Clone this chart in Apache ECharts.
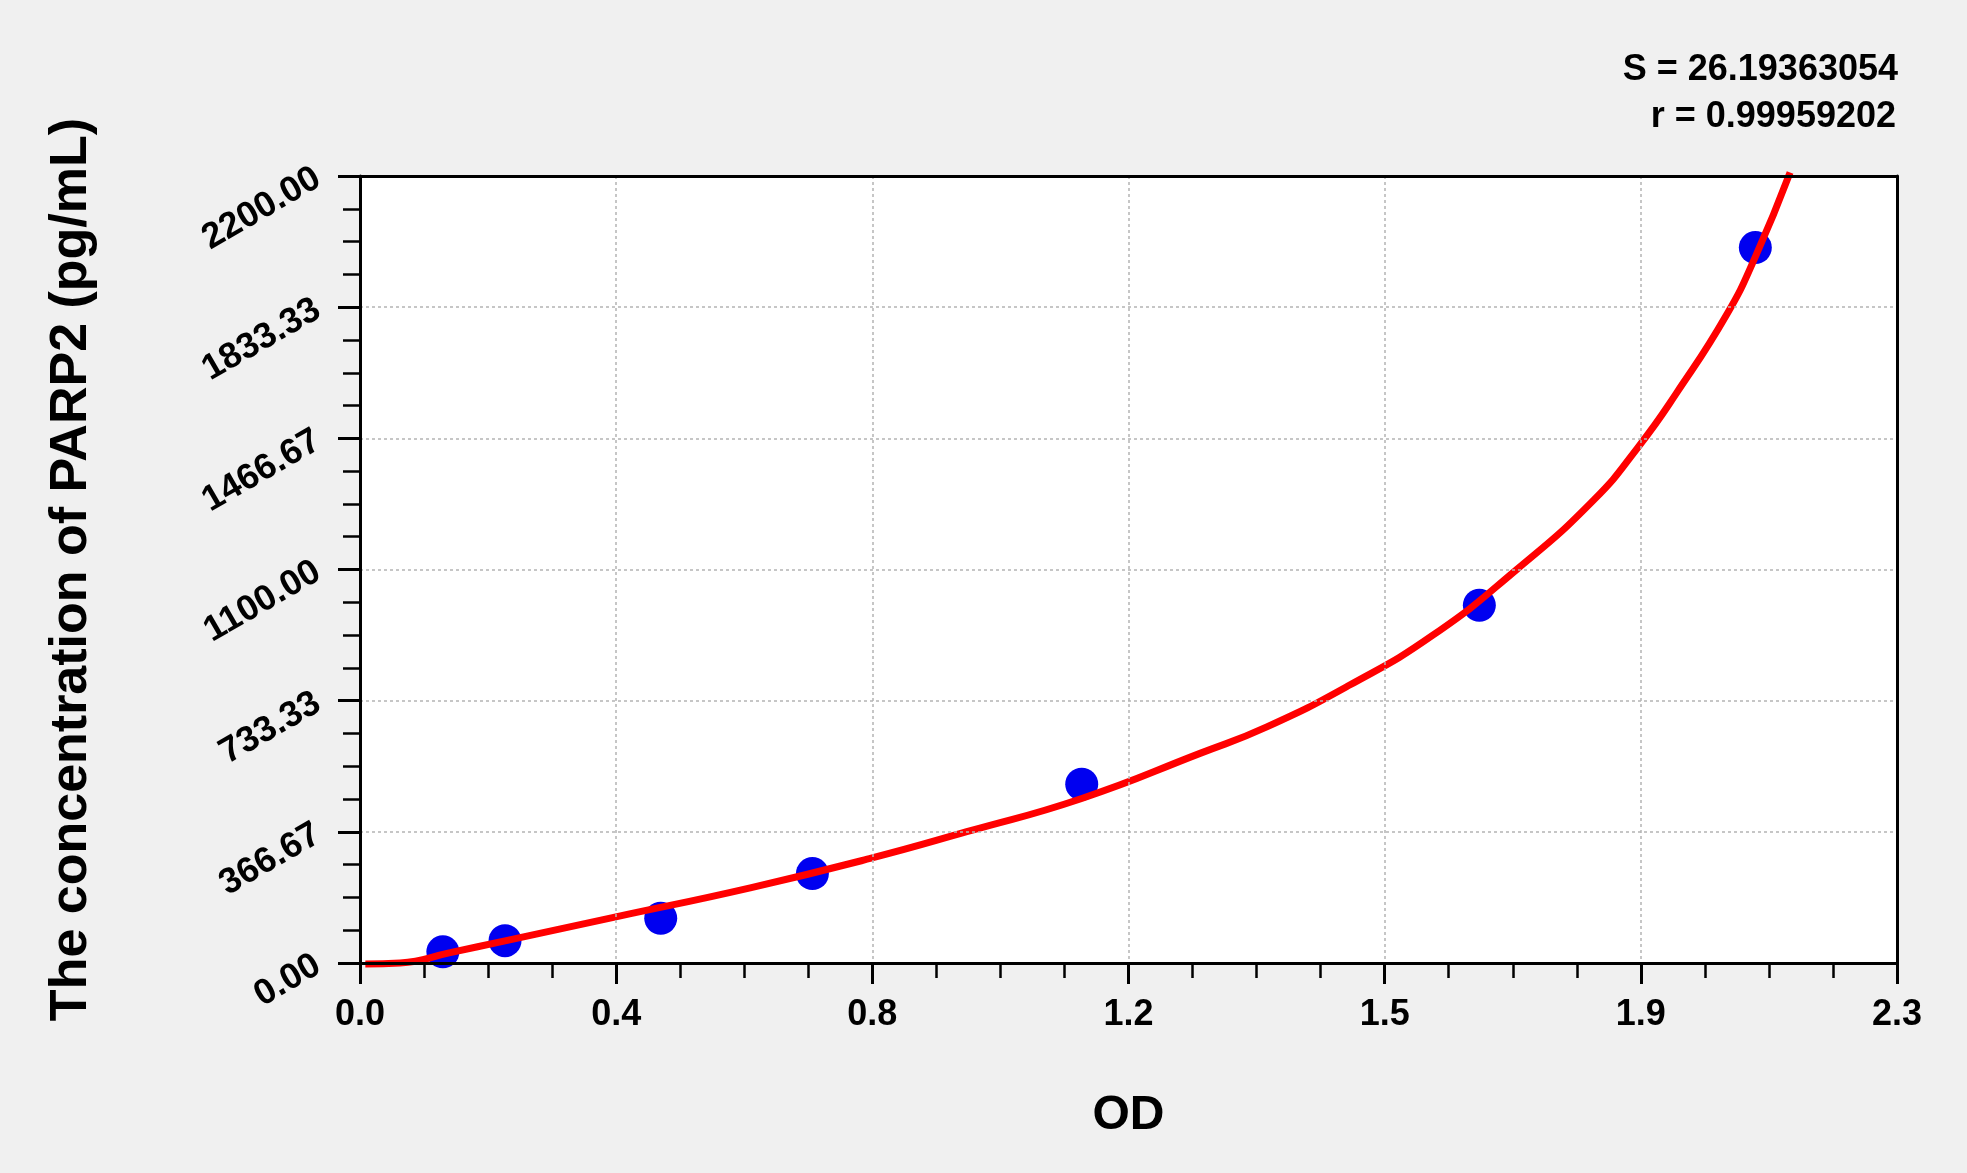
<!DOCTYPE html>
<html>
<head>
<meta charset="utf-8">
<script src="https://cdn.jsdelivr.net/npm/echarts@6/dist/echarts.min.js"></script>
<style>
html,body{margin:0;padding:0;background:#f0f0f0;}
#chart{width:1967px;height:1173px;}
</style>
</head>
<body>
<div id="chart"></div>
<script>
// standard points (OD, concentration)
var odValues = [0.124, 0.217, 0.450, 0.677, 1.080, 1.675, 2.088]
var concValues = [31.25, 62.5, 125, 250, 500, 1000, 2000]

// fitted curve
var curveOD = [0.008, 0.06, 0.135, 0.217, 0.383, 0.584, 0.765, 0.908, 1.08, 1.257, 1.357, 1.481, 1.606, 1.731, 1.846, 1.913, 1.97, 2.045, 2.088, 2.140]
var curveConc = [-3, 0, 29, 62, 129, 210, 293, 367, 460, 586, 660, 777, 917, 1100, 1294, 1443, 1593, 1812, 1974, 2210]

var xTickLabels = ['0.0', '0.4', '0.8', '1.2', '1.5', '1.9', '2.3']
var yTickLabels = ['0.00', '366.67', '733.33', '1100.00', '1466.67', '1833.33', '2200.00']

var statS = 'S = 26.19363054'
var statR = 'r = 0.99959202'

var FONT = "'Liberation Sans', Arial, sans-serif"
var xMax = 2.3, yMax = 2200
var xStep = xMax / (xTickLabels.length - 1)
var yStep = yMax / (yTickLabels.length - 1)

function zip(a, b){
	var out = []
	for (var i = 0; i < a.length; i++) out.push([a[i], b[i]])
	return out
}

var frameAxis = {   // top / right frame lines only
	show: true,
	axisLine: {onZero: false, lineStyle: {color: '#000', width: 3}},
	axisTick: {show: false},
	axisLabel: {show: false},
	splitLine: {show: false}
}

var myChart = echarts.init(document.getElementById('chart'))
var option = {
	backgroundColor: '#f0f0f0',
	animation: false,
	grid: {
		left: 360, right: 70, top: 176, bottom: 210,
		show: true, backgroundColor: '#ffffff', borderWidth: 0
	},
	graphic: [
		{type: 'text', x: 1898, y: 70, style: {text: statS, textAlign: 'right', textVerticalAlign: 'middle', fontFamily: FONT, fontWeight: 'bold', fontSize: 36, fill: '#000'}},
		{type: 'text', x: 1896, y: 117, style: {text: statR, textAlign: 'right', textVerticalAlign: 'middle', fontFamily: FONT, fontWeight: 'bold', fontSize: 36, fill: '#000'}}
	],
	xAxis: [{
		type: 'value', min: 0, max: xMax, interval: xStep,
		name: 'OD', nameLocation: 'middle', nameGap: 129,
		nameTextStyle: {fontFamily: FONT, fontWeight: 'bold', fontSize: 48, color: '#000'},
		axisLine: {onZero: false, lineStyle: {color: '#000', width: 3}},
		axisTick: {length: 21, lineStyle: {color: '#000', width: 3}},
		minorTick: {show: true, splitNumber: 4, length: 15, lineStyle: {color: '#000', width: 2.5}},
		axisLabel: {
			margin: 34, fontFamily: FONT, fontWeight: 'bold', fontSize: 36, color: '#000',
			formatter: function(v){ return xTickLabels[Math.round(v / xStep)] }
		},
		splitLine: {show: true, lineStyle: {color: '#b4b4b4', width: 1.5, type: [3, 3]}},
		z: 5
	}, Object.assign({type: 'value', position: 'top', min: 0, max: xMax, z: 5}, frameAxis)],
	yAxis: [{
		type: 'value', min: 0, max: yMax, interval: yStep,
		name: 'The concentration of PARP2 (pg/mL)', nameLocation: 'middle', nameGap: 262,
		nameTextStyle: {fontFamily: FONT, fontWeight: 'bold', fontSize: 52, color: '#000'},
		axisLine: {onZero: false, lineStyle: {color: '#000', width: 3}},
		axisTick: {length: 22, lineStyle: {color: '#000', width: 3}},
		minorTick: {show: true, splitNumber: 4, length: 17, lineStyle: {color: '#000', width: 2.5}},
		axisLabel: {
			margin: 42, rotate: 30, fontFamily: FONT, fontWeight: 'bold', fontSize: 36, color: '#000',
			formatter: function(v){ return yTickLabels[Math.round(v / yStep)] }
		},
		splitLine: {show: true, lineStyle: {color: '#b4b4b4', width: 1.5, type: [3, 3]}},
		z: 5
	}, Object.assign({type: 'value', position: 'right', min: 0, max: yMax, z: 5}, frameAxis)],
	series: [{
		name: 'standard',
		type: 'scatter',
		data: zip(odValues, concValues),
		symbol: 'circle',
		symbolSize: 33,
		itemStyle: {color: '#0000f0', opacity: 1},
		z: 2
	}, {
		name: 'fit',
		type: 'line',
		data: zip(curveOD, curveConc),
		smooth: 0.5,
		showSymbol: false,
		clip: false,
		lineStyle: {color: '#ff0000', width: 7},
		z: 3
	}]
}
myChart.setOption(option)
</script>
</body>
</html>
